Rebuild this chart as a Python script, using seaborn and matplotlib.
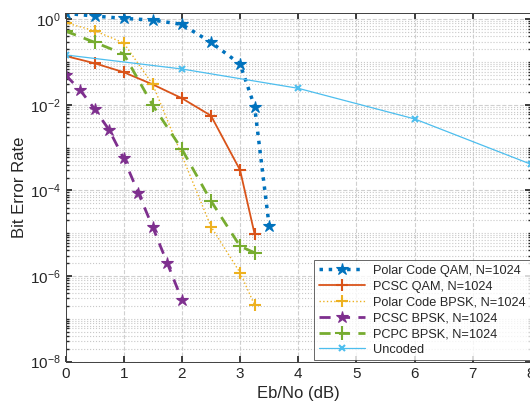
import numpy as np
import pandas as pd
import matplotlib
matplotlib.use('Agg')
import matplotlib.pyplot as plt
from matplotlib.ticker import LogLocator, NullFormatter, FixedLocator
import seaborn as sns

# Eb/No points (dB) and BER values
snr_qam = [0, 0.5, 1, 1.5, 2, 2.5, 3, 3.25, 3.5]
ber_polar_qam = [1.38, 1.19, 1.05, 0.96, 0.76, 0.29, 0.09, 0.0091, 1.48e-5]

snr_pcsc_qam = [0, 0.5, 1, 1.5, 2, 2.5, 3, 3.25]
ber_pcsc_qam = [0.139, 0.094, 0.058, 0.030, 0.0143, 0.0056, 3.0e-4, 9.6e-6]

snr_polar_bpsk = [0, 0.5, 1, 1.5, 2.5, 3, 3.25]
ber_polar_bpsk = [0.83, 0.54, 0.28, 0.030, 1.44e-5, 1.2e-6, 2.1e-7]

snr_pcsc_bpsk = [0, 0.25, 0.5, 0.75, 1, 1.25, 1.5, 1.75, 2]
ber_pcsc_bpsk = [0.050, 0.0223, 0.0080, 2.6e-3, 5.6e-4, 8.9e-5, 1.38e-5, 2.0e-6, 2.8e-7]

snr_pcpc_bpsk = [0, 0.5, 1, 1.5, 2, 2.5, 3, 3.25]
ber_pcpc_bpsk = [0.53, 0.29, 0.155, 0.0098, 9.2e-4, 5.7e-5, 5.0e-6, 3.5e-6]

snr_uncoded = [0, 2, 4, 6, 8]
ber_uncoded = [0.147, 0.069, 0.0244, 0.0047, 4.1e-4]

sns.set_theme(style="ticks")
plt.rcParams['font.family'] = ['Liberation Sans', 'DejaVu Sans']

fig = plt.figure(figsize=(5.30, 4.04), dpi=100)
ax = fig.add_axes([65.5 / 530, 1 - 361.7 / 404, 465.5 / 530, (361.7 - 13.3) / 404])

series = [
    (snr_qam, ber_polar_qam, 'Polar Code QAM, N=1024', '#0072BD', '*', ':', 2.5, 9),
    (snr_pcsc_qam, ber_pcsc_qam, 'PCSC QAM, N=1024', '#D95319', '+', '-', 1.3, 9),
    (snr_polar_bpsk, ber_polar_bpsk, 'Polar Code BPSK, N=1024', '#EDB120', '+', ':', 1.0, 9),
    (snr_pcsc_bpsk, ber_pcsc_bpsk, 'PCSC BPSK, N=1024', '#7E2F8E', '*', (0, (4, 3)), 2.0, 9),
    (snr_pcpc_bpsk, ber_pcpc_bpsk, 'PCPC BPSK, N=1024', '#77AC30', '+', (0, (4, 3)), 2.0, 10),
    (snr_uncoded, ber_uncoded, 'Uncoded', '#4DBEEE', 'x', '-', 0.9, 5),
]

for x, y, name, color, mk, ls, lw, ms in series:
    df = pd.DataFrame({'snr': x, 'ber': y})
    sns.lineplot(data=df, x='snr', y='ber', ax=ax, color=color, marker=mk,
                 linestyle=ls, linewidth=lw, markersize=ms,
                 markeredgecolor=color, markeredgewidth=1.5 if mk != '*' else 0.8,
                 label=name)

ax.set_yscale('log')
ax.set_xlim(0, 8)
ax.set_ylim(1e-8, 10 ** 0.14)
ax.xaxis.set_major_locator(FixedLocator(range(0, 9)))
ax.yaxis.set_major_locator(FixedLocator([1e-8, 1e-6, 1e-4, 1e-2, 1e0]))
ax.yaxis.set_minor_locator(LogLocator(base=10, subs=np.arange(1, 10), numticks=20))
ax.yaxis.set_minor_formatter(NullFormatter())

ax.grid(True, which='major', color='#d0d0d0', linestyle='--', linewidth=0.8)
ax.grid(True, which='minor', axis='y', color='#c8c8c8', linestyle=':', linewidth=0.8)
ax.tick_params(which='both', direction='in', top=True, right=True, colors='#262626',
               labelsize=11)
ax.tick_params(which='major', length=4)
ax.tick_params(which='minor', length=2)
for s in ax.spines.values():
    s.set_color('#404040')
    s.set_linewidth(0.7)
    s.set_visible(True)

ax.set_xlabel('Eb/No (dB)', fontsize=12, color='#262626')
ax.set_ylabel('Bit Error Rate', fontsize=12, color='#262626', labelpad=2)

leg = ax.legend(loc='lower right', fontsize=9.2, handlelength=3.6, frameon=True,
                fancybox=False, edgecolor='#404040', borderaxespad=0.1,
                labelspacing=0.3, borderpad=0.35, handletextpad=0.6)
leg.get_frame().set_linewidth(0.7)

fig.savefig('out.png', dpi=100)
